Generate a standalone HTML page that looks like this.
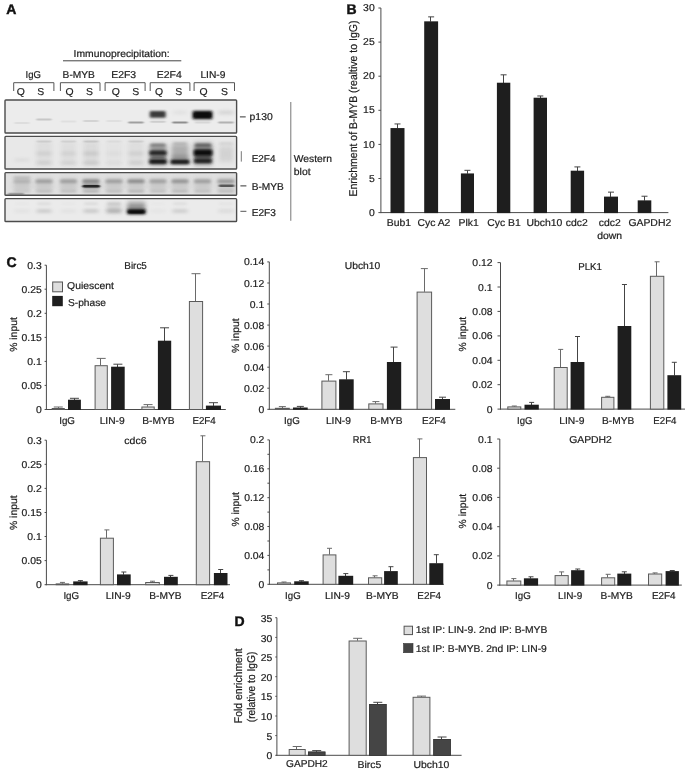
<!DOCTYPE html>
<html lang="en"><head><meta charset="utf-8"><title>Figure</title>
<style>
html,body{margin:0;padding:0;background:#fff;}
body{width:685px;height:770px;overflow:hidden;}
svg{display:block;font-family:"Liberation Sans",Arial,Helvetica,sans-serif;text-rendering:geometricPrecision;}
</style></head><body>
<svg width="685" height="770" viewBox="0 0 685 770">
<defs>
<filter id="b1" x="-30%" y="-100%" width="160%" height="300%"><feGaussianBlur stdDeviation="1.8 1.3"/></filter>
<filter id="b2" x="-30%" y="-100%" width="160%" height="300%"><feGaussianBlur stdDeviation="1.2 0.7"/></filter>
<filter id="b3" x="-30%" y="-100%" width="160%" height="300%"><feGaussianBlur stdDeviation="2 1.6"/></filter>
<filter id="b4" x="-30%" y="-100%" width="160%" height="300%"><feGaussianBlur stdDeviation="2.2 2.6"/></filter>
<clipPath id="c1"><rect x="5" y="100" width="231.5" height="33.5"/></clipPath>
<clipPath id="c2"><rect x="5" y="136.5" width="231.5" height="32.5"/></clipPath>
<clipPath id="c3"><rect x="5" y="172.8" width="231.5" height="22.5"/></clipPath>
<clipPath id="c4"><rect x="5" y="198.8" width="231.5" height="22.7"/></clipPath>
</defs>
<rect width="685" height="770" fill="#ffffff"/>

<g id="panelA">
<text x="6.2" y="14.4" font-size="14" font-weight="bold" fill="#111" stroke="#111" stroke-width="0.45">A</text>
<text x="73.6" y="56.9" font-size="10" textLength="96" lengthAdjust="spacingAndGlyphs" fill="#1c1c1c" stroke="#1c1c1c" stroke-width="0.2">Immunoprecipitation:</text>
<line x1="63" y1="60.8" x2="181.3" y2="60.8" stroke="#444" stroke-width="1"/>
<text x="25.6" y="78.2" font-size="10" textLength="15.4" lengthAdjust="spacingAndGlyphs" fill="#1c1c1c" stroke="#1c1c1c" stroke-width="0.2">IgG</text>
<text x="62.6" y="78.2" font-size="10" textLength="32.3" lengthAdjust="spacingAndGlyphs" fill="#1c1c1c" stroke="#1c1c1c" stroke-width="0.2">B-MYB</text>
<text x="111.2" y="78.2" font-size="10" textLength="25.0" lengthAdjust="spacingAndGlyphs" fill="#1c1c1c" stroke="#1c1c1c" stroke-width="0.2">E2F3</text>
<text x="156.8" y="78.2" font-size="10" textLength="25.0" lengthAdjust="spacingAndGlyphs" fill="#1c1c1c" stroke="#1c1c1c" stroke-width="0.2">E2F4</text>
<text x="200.4" y="78.2" font-size="10" textLength="25.0" lengthAdjust="spacingAndGlyphs" fill="#1c1c1c" stroke="#1c1c1c" stroke-width="0.2">LIN-9</text>
<path d="M13.7 91 V82.7 H53.9 V91" fill="none" stroke="#555" stroke-width="1"/>
<path d="M60.4 91 V82.7 H100.0 V91" fill="none" stroke="#555" stroke-width="1"/>
<path d="M105.1 91 V82.7 H145.1 V91" fill="none" stroke="#555" stroke-width="1"/>
<path d="M150.2 91 V82.7 H189.9 V91" fill="none" stroke="#555" stroke-width="1"/>
<path d="M194.1 91 V82.7 H234.5 V91" fill="none" stroke="#555" stroke-width="1"/>
<text x="20.9" y="94.6" font-size="10" text-anchor="middle" textLength="8.09" lengthAdjust="spacingAndGlyphs" fill="#1c1c1c" stroke="#1c1c1c" stroke-width="0.2">Q</text>
<text x="40.7" y="94.6" font-size="10" text-anchor="middle" textLength="6.94" lengthAdjust="spacingAndGlyphs" fill="#1c1c1c" stroke="#1c1c1c" stroke-width="0.2">S</text>
<text x="69.5" y="94.6" font-size="10" text-anchor="middle" textLength="8.09" lengthAdjust="spacingAndGlyphs" fill="#1c1c1c" stroke="#1c1c1c" stroke-width="0.2">Q</text>
<text x="89.4" y="94.6" font-size="10" text-anchor="middle" textLength="6.94" lengthAdjust="spacingAndGlyphs" fill="#1c1c1c" stroke="#1c1c1c" stroke-width="0.2">S</text>
<text x="115.8" y="94.6" font-size="10" text-anchor="middle" textLength="8.09" lengthAdjust="spacingAndGlyphs" fill="#1c1c1c" stroke="#1c1c1c" stroke-width="0.2">Q</text>
<text x="135.7" y="94.6" font-size="10" text-anchor="middle" textLength="6.94" lengthAdjust="spacingAndGlyphs" fill="#1c1c1c" stroke="#1c1c1c" stroke-width="0.2">S</text>
<text x="159.0" y="94.6" font-size="10" text-anchor="middle" textLength="8.09" lengthAdjust="spacingAndGlyphs" fill="#1c1c1c" stroke="#1c1c1c" stroke-width="0.2">Q</text>
<text x="178.7" y="94.6" font-size="10" text-anchor="middle" textLength="6.94" lengthAdjust="spacingAndGlyphs" fill="#1c1c1c" stroke="#1c1c1c" stroke-width="0.2">S</text>
<text x="203.6" y="94.6" font-size="10" text-anchor="middle" textLength="8.09" lengthAdjust="spacingAndGlyphs" fill="#1c1c1c" stroke="#1c1c1c" stroke-width="0.2">Q</text>
<text x="224.5" y="94.6" font-size="10" text-anchor="middle" textLength="6.94" lengthAdjust="spacingAndGlyphs" fill="#1c1c1c" stroke="#1c1c1c" stroke-width="0.2">S</text>
<g clip-path="url(#c1)">
<rect x="5.00" y="100.00" width="232.00" height="34.00" fill="#ececec"/>
<rect x="14.2" y="122.0" width="15.5" height="2.0" rx="1.0" fill="#555" opacity="0.09" filter="url(#b2)"/>
<rect x="36.2" y="118.5" width="15.5" height="2.0" rx="1.0" fill="#555" opacity="0.24" filter="url(#b2)"/>
<rect x="60.8" y="120.5" width="15.5" height="2.0" rx="1.0" fill="#555" opacity="0.08" filter="url(#b2)"/>
<rect x="83.2" y="120.0" width="15.5" height="2.0" rx="1.0" fill="#555" opacity="0.16" filter="url(#b2)"/>
<rect x="106.2" y="120.0" width="15.5" height="2.0" rx="1.0" fill="#555" opacity="0.08" filter="url(#b2)"/>
<rect x="128.2" y="121.4" width="15.5" height="2.0" rx="1.0" fill="#555" opacity="0.5" filter="url(#b2)"/>
<rect x="150.2" y="120.8" width="15.5" height="2.0" rx="1.0" fill="#555" opacity="0.2" filter="url(#b2)"/>
<rect x="172.2" y="121.4" width="15.5" height="2.0" rx="1.0" fill="#555" opacity="0.62" filter="url(#b2)"/>
<rect x="194.8" y="121.4" width="15.5" height="2.0" rx="1.0" fill="#555" opacity="0.14" filter="url(#b2)"/>
<rect x="218.2" y="121.4" width="15.5" height="2.0" rx="1.0" fill="#555" opacity="0.38" filter="url(#b2)"/>
<rect x="149.7" y="111.1" width="16.0" height="6.6" rx="1.5" fill="#303030" opacity="0.95" filter="url(#b1)"/>
<rect x="192.5" y="110.8" width="20.0" height="8.4" rx="1.5" fill="#141414" opacity="1" filter="url(#b1)"/>
<rect x="194.5" y="112.8" width="16.0" height="4.5" rx="1.5" fill="#0a0a0a" opacity="0.9" filter="url(#b2)"/>
<rect x="218.5" y="110.5" width="15.0" height="4.0" rx="1.5" fill="#888" opacity="0.22" filter="url(#b3)"/>
<rect x="173.0" y="110.5" width="14.0" height="4.0" rx="1.5" fill="#999" opacity="0.12" filter="url(#b3)"/>
</g>
<rect x="5.00" y="100.00" width="231.60" height="33.00" fill="none" stroke="#4c4c4c" stroke-width="1.4" rx="0.8"/>
<g clip-path="url(#c2)">
<rect x="5.00" y="136.00" width="232.00" height="33.50" fill="#e8e8e8"/>
<rect x="36.5" y="141.0" width="15.0" height="24.0" rx="1.5" fill="#999" opacity="0.128" filter="url(#b4)"/>
<rect x="36.5" y="140.5" width="15.0" height="2.0" rx="1.0" fill="#666" opacity="0.16" filter="url(#b2)"/>
<rect x="36.5" y="151.5" width="15.0" height="4.0" rx="1.5" fill="#777" opacity="0.14400000000000002" filter="url(#b3)"/>
<rect x="36.5" y="161.2" width="15.0" height="3.5" rx="1.5" fill="#777" opacity="0.16" filter="url(#b3)"/>
<rect x="61.0" y="141.0" width="15.0" height="24.0" rx="1.5" fill="#999" opacity="0.11200000000000002" filter="url(#b4)"/>
<rect x="61.0" y="140.5" width="15.0" height="2.0" rx="1.0" fill="#666" opacity="0.14" filter="url(#b2)"/>
<rect x="61.0" y="151.5" width="15.0" height="4.0" rx="1.5" fill="#777" opacity="0.12600000000000003" filter="url(#b3)"/>
<rect x="61.0" y="161.2" width="15.0" height="3.5" rx="1.5" fill="#777" opacity="0.14" filter="url(#b3)"/>
<rect x="83.5" y="141.0" width="15.0" height="24.0" rx="1.5" fill="#999" opacity="0.16000000000000003" filter="url(#b4)"/>
<rect x="83.5" y="140.5" width="15.0" height="2.0" rx="1.0" fill="#666" opacity="0.2" filter="url(#b2)"/>
<rect x="83.5" y="151.5" width="15.0" height="4.0" rx="1.5" fill="#777" opacity="0.18000000000000002" filter="url(#b3)"/>
<rect x="83.5" y="161.2" width="15.0" height="3.5" rx="1.5" fill="#777" opacity="0.2" filter="url(#b3)"/>
<rect x="106.5" y="141.0" width="15.0" height="24.0" rx="1.5" fill="#999" opacity="0.05600000000000001" filter="url(#b4)"/>
<rect x="106.5" y="140.5" width="15.0" height="2.0" rx="1.0" fill="#666" opacity="0.07" filter="url(#b2)"/>
<rect x="106.5" y="151.5" width="15.0" height="4.0" rx="1.5" fill="#777" opacity="0.06300000000000001" filter="url(#b3)"/>
<rect x="106.5" y="161.2" width="15.0" height="3.5" rx="1.5" fill="#777" opacity="0.07" filter="url(#b3)"/>
<rect x="128.5" y="141.0" width="15.0" height="24.0" rx="1.5" fill="#999" opacity="0.128" filter="url(#b4)"/>
<rect x="128.5" y="140.5" width="15.0" height="2.0" rx="1.0" fill="#666" opacity="0.16" filter="url(#b2)"/>
<rect x="128.5" y="151.5" width="15.0" height="4.0" rx="1.5" fill="#777" opacity="0.14400000000000002" filter="url(#b3)"/>
<rect x="128.5" y="161.2" width="15.0" height="3.5" rx="1.5" fill="#777" opacity="0.16" filter="url(#b3)"/>
<rect x="14.5" y="158.0" width="15.0" height="4.0" rx="1.5" fill="#888" opacity="0.1" filter="url(#b3)"/>
<rect x="149.5" y="145.0" width="17.0" height="20.0" rx="1.5" fill="#555" opacity="0.55" filter="url(#b4)"/>
<rect x="150.2" y="143.6" width="15.5" height="3.2" rx="1.5" fill="#666" opacity="0.7" filter="url(#b1)"/>
<rect x="149.5" y="150.4" width="17.0" height="4.8" rx="1.5" fill="#262626" opacity="1" filter="url(#b1)"/>
<rect x="149.2" y="159.2" width="17.5" height="4.8" rx="1.5" fill="#1c1c1c" opacity="1" filter="url(#b1)"/>
<rect x="150.5" y="155.7" width="15.0" height="3.0" rx="1.5" fill="#333" opacity="0.5" filter="url(#b1)"/>
<rect x="171.5" y="144.0" width="17.0" height="20.0" rx="1.5" fill="#888" opacity="0.6" filter="url(#b4)"/>
<rect x="173.0" y="142.2" width="14.0" height="2.5" rx="1.2" fill="#888" opacity="0.4" filter="url(#b1)"/>
<rect x="172.0" y="154.5" width="16.0" height="5.0" rx="1.5" fill="#777" opacity="0.4" filter="url(#b3)"/>
<rect x="170.5" y="159.4" width="19.0" height="4.8" rx="1.5" fill="#1e1e1e" opacity="1" filter="url(#b1)"/>
<rect x="193.8" y="143.5" width="18.5" height="21.0" rx="1.5" fill="#4a4a4a" opacity="0.6" filter="url(#b4)"/>
<rect x="195.0" y="143.4" width="16.0" height="3.6" rx="1.5" fill="#555" opacity="0.8" filter="url(#b1)"/>
<rect x="193.8" y="149.4" width="18.5" height="6.4" rx="1.5" fill="#080808" opacity="1" filter="url(#b1)"/>
<rect x="194.2" y="158.4" width="17.5" height="4.8" rx="1.5" fill="#222" opacity="1" filter="url(#b1)"/>
<rect x="195.0" y="155.5" width="16.0" height="3.0" rx="1.5" fill="#222" opacity="0.6" filter="url(#b1)"/>
<rect x="219.0" y="142.2" width="14.0" height="2.5" rx="1.2" fill="#999" opacity="0.25" filter="url(#b1)"/>
<rect x="219.0" y="146.0" width="14.0" height="16.0" rx="1.5" fill="#aaa" opacity="0.35" filter="url(#b4)"/>
</g>
<rect x="5.00" y="136.40" width="231.60" height="32.60" fill="none" stroke="#4c4c4c" stroke-width="1.4" rx="0.8"/>
<g clip-path="url(#c3)">
<rect x="5.00" y="172.00" width="232.00" height="24.00" fill="#e0e0e0"/>
<rect x="13.5" y="178.5" width="17.0" height="13.0" rx="1.5" fill="#999" opacity="0.3" filter="url(#b4)"/>
<rect x="13.5" y="179.2" width="17.0" height="4.0" rx="1.5" fill="#666" opacity="0.25" filter="url(#b1)"/>
<rect x="14.0" y="190.1" width="16.0" height="2.4" rx="1.2" fill="#777" opacity="0.1375" filter="url(#b1)"/>
<rect x="35.5" y="178.5" width="17.0" height="13.0" rx="1.5" fill="#999" opacity="0.3" filter="url(#b4)"/>
<rect x="35.5" y="179.2" width="17.0" height="4.0" rx="1.5" fill="#666" opacity="0.42" filter="url(#b1)"/>
<rect x="36.0" y="190.1" width="16.0" height="2.4" rx="1.2" fill="#777" opacity="0.231" filter="url(#b1)"/>
<rect x="60.0" y="178.5" width="17.0" height="13.0" rx="1.5" fill="#999" opacity="0.3" filter="url(#b4)"/>
<rect x="60.0" y="179.2" width="17.0" height="4.0" rx="1.5" fill="#666" opacity="0.42" filter="url(#b1)"/>
<rect x="60.5" y="190.1" width="16.0" height="2.4" rx="1.2" fill="#777" opacity="0.231" filter="url(#b1)"/>
<rect x="82.5" y="178.5" width="17.0" height="13.0" rx="1.5" fill="#999" opacity="0.3" filter="url(#b4)"/>
<rect x="82.5" y="179.2" width="17.0" height="4.0" rx="1.5" fill="#666" opacity="0.62" filter="url(#b1)"/>
<rect x="83.0" y="190.1" width="16.0" height="2.4" rx="1.2" fill="#777" opacity="0.341" filter="url(#b1)"/>
<rect x="105.5" y="178.5" width="17.0" height="13.0" rx="1.5" fill="#999" opacity="0.3" filter="url(#b4)"/>
<rect x="105.5" y="179.2" width="17.0" height="4.0" rx="1.5" fill="#666" opacity="0.42" filter="url(#b1)"/>
<rect x="106.0" y="190.1" width="16.0" height="2.4" rx="1.2" fill="#777" opacity="0.231" filter="url(#b1)"/>
<rect x="127.5" y="178.5" width="17.0" height="13.0" rx="1.5" fill="#999" opacity="0.3" filter="url(#b4)"/>
<rect x="127.5" y="179.2" width="17.0" height="4.0" rx="1.5" fill="#666" opacity="0.58" filter="url(#b1)"/>
<rect x="128.0" y="190.1" width="16.0" height="2.4" rx="1.2" fill="#777" opacity="0.319" filter="url(#b1)"/>
<rect x="149.5" y="178.5" width="17.0" height="13.0" rx="1.5" fill="#999" opacity="0.3" filter="url(#b4)"/>
<rect x="149.5" y="179.2" width="17.0" height="4.0" rx="1.5" fill="#666" opacity="0.4" filter="url(#b1)"/>
<rect x="150.0" y="190.1" width="16.0" height="2.4" rx="1.2" fill="#777" opacity="0.22000000000000003" filter="url(#b1)"/>
<rect x="171.5" y="178.5" width="17.0" height="13.0" rx="1.5" fill="#999" opacity="0.3" filter="url(#b4)"/>
<rect x="171.5" y="179.2" width="17.0" height="4.0" rx="1.5" fill="#666" opacity="0.5" filter="url(#b1)"/>
<rect x="172.0" y="190.1" width="16.0" height="2.4" rx="1.2" fill="#777" opacity="0.275" filter="url(#b1)"/>
<rect x="194.0" y="178.5" width="17.0" height="13.0" rx="1.5" fill="#999" opacity="0.3" filter="url(#b4)"/>
<rect x="194.0" y="179.2" width="17.0" height="4.0" rx="1.5" fill="#666" opacity="0.42" filter="url(#b1)"/>
<rect x="194.5" y="190.1" width="16.0" height="2.4" rx="1.2" fill="#777" opacity="0.231" filter="url(#b1)"/>
<rect x="217.5" y="178.5" width="17.0" height="13.0" rx="1.5" fill="#999" opacity="0.3" filter="url(#b4)"/>
<rect x="217.5" y="179.2" width="17.0" height="4.0" rx="1.5" fill="#666" opacity="0.45" filter="url(#b1)"/>
<rect x="218.0" y="190.1" width="16.0" height="2.4" rx="1.2" fill="#777" opacity="0.24750000000000003" filter="url(#b1)"/>
<rect x="8.0" y="192.8" width="16.0" height="2.0" rx="1.0" fill="#555" opacity="0.45" filter="url(#b2)"/>
<rect x="13.5" y="176.2" width="17.0" height="2.5" rx="1.2" fill="#777" opacity="0.3" filter="url(#b1)"/>
<rect x="82.7" y="185.0" width="17.0" height="2.6" rx="1.3" fill="#1a1a1a" opacity="1" filter="url(#b2)"/>
<rect x="82.7" y="184.6" width="17.0" height="3.4" rx="1.5" fill="#333" opacity="0.5" filter="url(#b1)"/>
<rect x="218.8" y="184.5" width="15.5" height="2.4" rx="1.2" fill="#3a3a3a" opacity="0.8" filter="url(#b2)"/>
</g>
<rect x="5.00" y="172.60" width="231.60" height="22.60" fill="none" stroke="#4c4c4c" stroke-width="1.4" rx="0.8"/>
<g clip-path="url(#c4)">
<rect x="5.00" y="198.00" width="232.00" height="24.00" fill="#ebebeb"/>
<rect x="14.5" y="209.0" width="15.0" height="4.0" rx="1.5" fill="#777" opacity="0.07" filter="url(#b3)"/>
<rect x="15.0" y="202.6" width="14.0" height="2.4" rx="1.2" fill="#888" opacity="0.042" filter="url(#b1)"/>
<rect x="36.5" y="209.0" width="15.0" height="4.0" rx="1.5" fill="#777" opacity="0.25" filter="url(#b3)"/>
<rect x="37.0" y="202.6" width="14.0" height="2.4" rx="1.2" fill="#888" opacity="0.15" filter="url(#b1)"/>
<rect x="61.0" y="209.0" width="15.0" height="4.0" rx="1.5" fill="#777" opacity="0.07" filter="url(#b3)"/>
<rect x="61.5" y="202.6" width="14.0" height="2.4" rx="1.2" fill="#888" opacity="0.042" filter="url(#b1)"/>
<rect x="83.5" y="209.0" width="15.0" height="4.0" rx="1.5" fill="#777" opacity="0.28" filter="url(#b3)"/>
<rect x="84.0" y="202.6" width="14.0" height="2.4" rx="1.2" fill="#888" opacity="0.168" filter="url(#b1)"/>
<rect x="106.5" y="209.0" width="15.0" height="4.0" rx="1.5" fill="#777" opacity="0.42" filter="url(#b3)"/>
<rect x="107.0" y="202.6" width="14.0" height="2.4" rx="1.2" fill="#888" opacity="0.252" filter="url(#b1)"/>
<rect x="150.5" y="209.0" width="15.0" height="4.0" rx="1.5" fill="#777" opacity="0.05" filter="url(#b3)"/>
<rect x="151.0" y="202.6" width="14.0" height="2.4" rx="1.2" fill="#888" opacity="0.03" filter="url(#b1)"/>
<rect x="172.5" y="209.0" width="15.0" height="4.0" rx="1.5" fill="#777" opacity="0.24" filter="url(#b3)"/>
<rect x="173.0" y="202.6" width="14.0" height="2.4" rx="1.2" fill="#888" opacity="0.144" filter="url(#b1)"/>
<rect x="218.5" y="209.0" width="15.0" height="4.0" rx="1.5" fill="#777" opacity="0.12" filter="url(#b3)"/>
<rect x="219.0" y="202.6" width="14.0" height="2.4" rx="1.2" fill="#888" opacity="0.072" filter="url(#b1)"/>
<rect x="107.0" y="203.5" width="14.0" height="9.0" rx="1.5" fill="#999" opacity="0.3" filter="url(#b4)"/>
<rect x="127.3" y="202.5" width="18.0" height="10.0" rx="1.5" fill="#555" opacity="0.6" filter="url(#b4)"/>
<rect x="127.1" y="208.9" width="18.5" height="5.4" rx="1.5" fill="#181818" opacity="1" filter="url(#b1)"/>
<rect x="128.8" y="210.5" width="15.0" height="3.0" rx="1.5" fill="#101010" opacity="0.9" filter="url(#b2)"/>
</g>
<rect x="5.00" y="198.60" width="231.60" height="22.90" fill="none" stroke="#4c4c4c" stroke-width="1.4" rx="0.8"/>
<line x1="239.9" y1="116.9" x2="245.7" y2="116.9" stroke="#333" stroke-width="1"/>
<text x="249.6" y="119.6" font-size="10" textLength="23.1" lengthAdjust="spacingAndGlyphs" fill="#1c1c1c" stroke="#1c1c1c" stroke-width="0.2">p130</text>
<line x1="241.3" y1="151.2" x2="241.3" y2="161.6" stroke="#777" stroke-width="1"/>
<text x="251.7" y="162.0" font-size="10" textLength="23.8" lengthAdjust="spacingAndGlyphs" fill="#1c1c1c" stroke="#1c1c1c" stroke-width="0.2">E2F4</text>
<line x1="240.4" y1="185.9" x2="246.4" y2="185.9" stroke="#333" stroke-width="1"/>
<text x="251.7" y="189.7" font-size="10" textLength="32.1" lengthAdjust="spacingAndGlyphs" fill="#1c1c1c" stroke="#1c1c1c" stroke-width="0.2">B-MYB</text>
<line x1="240.4" y1="211.3" x2="246.4" y2="211.3" stroke="#555" stroke-width="1"/>
<text x="251.7" y="216.0" font-size="10" textLength="24.2" lengthAdjust="spacingAndGlyphs" fill="#1c1c1c" stroke="#1c1c1c" stroke-width="0.2">E2F3</text>
<line x1="290.8" y1="102" x2="290.8" y2="220.8" stroke="#777" stroke-width="1"/>
<text x="293.8" y="162.2" font-size="10" textLength="38.2" lengthAdjust="spacingAndGlyphs" fill="#1c1c1c" stroke="#1c1c1c" stroke-width="0.2">Western</text>
<text x="293.8" y="174.8" font-size="10" textLength="16.77" lengthAdjust="spacingAndGlyphs" fill="#1c1c1c" stroke="#1c1c1c" stroke-width="0.2">blot</text>
</g>
<g id="panelB">
<text x="346.6" y="13.6" font-size="14" font-weight="bold" fill="#111" stroke="#111" stroke-width="0.45">B</text>
<line x1="380.9" y1="8.0" x2="380.9" y2="213.1" stroke="#4a4a4a" stroke-width="1"/>
<line x1="378.4" y1="212.6" x2="380.9" y2="212.6" stroke="#4a4a4a" stroke-width="1"/>
<text x="374.7" y="215.7" font-size="10" text-anchor="end" textLength="5.78" lengthAdjust="spacingAndGlyphs" fill="#1c1c1c" stroke="#1c1c1c" stroke-width="0.2">0</text>
<line x1="378.4" y1="178.5" x2="380.9" y2="178.5" stroke="#4a4a4a" stroke-width="1"/>
<text x="374.7" y="181.6" font-size="10" text-anchor="end" textLength="5.78" lengthAdjust="spacingAndGlyphs" fill="#1c1c1c" stroke="#1c1c1c" stroke-width="0.2">5</text>
<line x1="378.4" y1="144.4" x2="380.9" y2="144.4" stroke="#4a4a4a" stroke-width="1"/>
<text x="374.7" y="147.5" font-size="10" text-anchor="end" textLength="11.57" lengthAdjust="spacingAndGlyphs" fill="#1c1c1c" stroke="#1c1c1c" stroke-width="0.2">10</text>
<line x1="378.4" y1="110.3" x2="380.9" y2="110.3" stroke="#4a4a4a" stroke-width="1"/>
<text x="374.7" y="113.4" font-size="10" text-anchor="end" textLength="11.57" lengthAdjust="spacingAndGlyphs" fill="#1c1c1c" stroke="#1c1c1c" stroke-width="0.2">15</text>
<line x1="378.4" y1="76.2" x2="380.9" y2="76.2" stroke="#4a4a4a" stroke-width="1"/>
<text x="374.7" y="79.3" font-size="10" text-anchor="end" textLength="11.57" lengthAdjust="spacingAndGlyphs" fill="#1c1c1c" stroke="#1c1c1c" stroke-width="0.2">20</text>
<line x1="378.4" y1="42.1" x2="380.9" y2="42.1" stroke="#4a4a4a" stroke-width="1"/>
<text x="374.7" y="45.2" font-size="10" text-anchor="end" textLength="11.57" lengthAdjust="spacingAndGlyphs" fill="#1c1c1c" stroke="#1c1c1c" stroke-width="0.2">25</text>
<line x1="378.4" y1="8.0" x2="380.9" y2="8.0" stroke="#4a4a4a" stroke-width="1"/>
<text x="374.7" y="11.1" font-size="10" text-anchor="end" textLength="11.57" lengthAdjust="spacingAndGlyphs" fill="#1c1c1c" stroke="#1c1c1c" stroke-width="0.2">30</text>
<line x1="380.8" y1="212.6" x2="668.4" y2="212.6" stroke="#4a4a4a" stroke-width="1"/>
<text x="357.2" y="108.6" font-size="11.3" text-anchor="middle" textLength="176" lengthAdjust="spacingAndGlyphs" transform="rotate(-90 357.2 108.6)" fill="#1c1c1c" stroke="#1c1c1c" stroke-width="0.2">Enrichment of B-MYB (realtive to IgG)</text>
<line x1="397.50" y1="128.37" x2="397.50" y2="123.94" stroke="#444" stroke-width="1"/>
<line x1="394.50" y1="123.94" x2="400.50" y2="123.94" stroke="#444" stroke-width="1"/>
<rect x="390.50" y="128.07" width="14.00" height="85.03" fill="#1e1e1e"/>
<text x="398.9" y="226.4" font-size="10" text-anchor="middle" textLength="24.29" lengthAdjust="spacingAndGlyphs" fill="#1c1c1c" stroke="#1c1c1c" stroke-width="0.2">Bub1</text>
<line x1="430.50" y1="21.64" x2="430.50" y2="16.87" stroke="#444" stroke-width="1"/>
<line x1="428.15" y1="16.87" x2="434.15" y2="16.87" stroke="#444" stroke-width="1"/>
<rect x="424.20" y="21.34" width="13.90" height="191.76" fill="#1e1e1e"/>
<text x="433.9" y="226.4" font-size="10" text-anchor="middle" textLength="32.95" lengthAdjust="spacingAndGlyphs" fill="#1c1c1c" stroke="#1c1c1c" stroke-width="0.2">Cyc A2</text>
<line x1="467.50" y1="173.73" x2="467.50" y2="170.32" stroke="#444" stroke-width="1"/>
<line x1="464.45" y1="170.32" x2="470.45" y2="170.32" stroke="#444" stroke-width="1"/>
<rect x="460.90" y="173.43" width="13.10" height="39.67" fill="#1e1e1e"/>
<text x="468.7" y="226.4" font-size="10" text-anchor="middle" textLength="20.23" lengthAdjust="spacingAndGlyphs" fill="#1c1c1c" stroke="#1c1c1c" stroke-width="0.2">Plk1</text>
<line x1="503.50" y1="83.02" x2="503.50" y2="74.84" stroke="#444" stroke-width="1"/>
<line x1="500.60" y1="74.84" x2="506.60" y2="74.84" stroke="#444" stroke-width="1"/>
<rect x="496.90" y="82.72" width="13.40" height="130.38" fill="#1e1e1e"/>
<text x="504.0" y="226.4" font-size="10" text-anchor="middle" textLength="33.52" lengthAdjust="spacingAndGlyphs" fill="#1c1c1c" stroke="#1c1c1c" stroke-width="0.2">Cyc B1</text>
<line x1="540.50" y1="98.02" x2="540.50" y2="95.98" stroke="#444" stroke-width="1"/>
<line x1="537.30" y1="95.98" x2="543.30" y2="95.98" stroke="#444" stroke-width="1"/>
<rect x="533.60" y="97.72" width="13.40" height="115.38" fill="#1e1e1e"/>
<text x="544.4" y="226.4" font-size="10" text-anchor="middle" textLength="35.85" lengthAdjust="spacingAndGlyphs" fill="#1c1c1c" stroke="#1c1c1c" stroke-width="0.2">Ubch10</text>
<line x1="577.50" y1="171.00" x2="577.50" y2="166.91" stroke="#444" stroke-width="1"/>
<line x1="574.40" y1="166.91" x2="580.40" y2="166.91" stroke="#444" stroke-width="1"/>
<rect x="570.70" y="170.70" width="13.40" height="42.40" fill="#1e1e1e"/>
<text x="576.7" y="226.4" font-size="10" text-anchor="middle" textLength="21.97" lengthAdjust="spacingAndGlyphs" fill="#1c1c1c" stroke="#1c1c1c" stroke-width="0.2">cdc2</text>
<line x1="610.50" y1="196.91" x2="610.50" y2="192.14" stroke="#444" stroke-width="1"/>
<line x1="608.00" y1="192.14" x2="614.00" y2="192.14" stroke="#444" stroke-width="1"/>
<rect x="604.00" y="196.61" width="14.00" height="16.49" fill="#1e1e1e"/>
<text x="609.7" y="226.4" font-size="10" text-anchor="middle" textLength="21.97" lengthAdjust="spacingAndGlyphs" fill="#1c1c1c" stroke="#1c1c1c" stroke-width="0.2">cdc2</text>
<text x="609.7" y="238.8" font-size="10" text-anchor="middle" textLength="24.86" lengthAdjust="spacingAndGlyphs" fill="#1c1c1c" stroke="#1c1c1c" stroke-width="0.2">down</text>
<line x1="644.50" y1="200.66" x2="644.50" y2="196.23" stroke="#444" stroke-width="1"/>
<line x1="641.50" y1="196.23" x2="647.50" y2="196.23" stroke="#444" stroke-width="1"/>
<rect x="637.70" y="200.36" width="13.60" height="12.74" fill="#1e1e1e"/>
<text x="649.8" y="226.4" font-size="10" text-anchor="middle" textLength="42.77" lengthAdjust="spacingAndGlyphs" fill="#1c1c1c" stroke="#1c1c1c" stroke-width="0.2">GAPDH2</text>
</g>
<g id="panelC">
<text x="6.4" y="267.2" font-size="14" font-weight="bold" fill="#111" stroke="#111" stroke-width="0.45">C</text>
<line x1="46.4" y1="265.2" x2="46.4" y2="410.0" stroke="#4a4a4a" stroke-width="1"/>
<line x1="44.6" y1="409.5" x2="46.4" y2="409.5" stroke="#4a4a4a" stroke-width="1"/>
<text x="41.8" y="413.0" font-size="10" text-anchor="end" textLength="5.78" lengthAdjust="spacingAndGlyphs" fill="#1c1c1c" stroke="#1c1c1c" stroke-width="0.2">0</text>
<line x1="44.6" y1="385.4" x2="46.4" y2="385.4" stroke="#4a4a4a" stroke-width="1"/>
<text x="41.8" y="388.9" font-size="10" text-anchor="end" textLength="20.24" lengthAdjust="spacingAndGlyphs" fill="#1c1c1c" stroke="#1c1c1c" stroke-width="0.2">0.05</text>
<line x1="44.6" y1="361.4" x2="46.4" y2="361.4" stroke="#4a4a4a" stroke-width="1"/>
<text x="41.8" y="364.9" font-size="10" text-anchor="end" textLength="14.46" lengthAdjust="spacingAndGlyphs" fill="#1c1c1c" stroke="#1c1c1c" stroke-width="0.2">0.1</text>
<line x1="44.6" y1="337.4" x2="46.4" y2="337.4" stroke="#4a4a4a" stroke-width="1"/>
<text x="41.8" y="340.9" font-size="10" text-anchor="end" textLength="20.24" lengthAdjust="spacingAndGlyphs" fill="#1c1c1c" stroke="#1c1c1c" stroke-width="0.2">0.15</text>
<line x1="44.6" y1="313.3" x2="46.4" y2="313.3" stroke="#4a4a4a" stroke-width="1"/>
<text x="41.8" y="316.8" font-size="10" text-anchor="end" textLength="14.46" lengthAdjust="spacingAndGlyphs" fill="#1c1c1c" stroke="#1c1c1c" stroke-width="0.2">0.2</text>
<line x1="44.6" y1="289.2" x2="46.4" y2="289.2" stroke="#4a4a4a" stroke-width="1"/>
<text x="41.8" y="292.7" font-size="10" text-anchor="end" textLength="20.24" lengthAdjust="spacingAndGlyphs" fill="#1c1c1c" stroke="#1c1c1c" stroke-width="0.2">0.25</text>
<line x1="44.6" y1="265.2" x2="46.4" y2="265.2" stroke="#4a4a4a" stroke-width="1"/>
<text x="41.8" y="268.7" font-size="10" text-anchor="end" textLength="14.46" lengthAdjust="spacingAndGlyphs" fill="#1c1c1c" stroke="#1c1c1c" stroke-width="0.2">0.3</text>
<line x1="45.9" y1="409.5" x2="225.8" y2="409.5" stroke="#4a4a4a" stroke-width="1"/>
<text x="124.3" y="269.0" font-size="10" textLength="22.6" lengthAdjust="spacingAndGlyphs" fill="#1c1c1c" stroke="#1c1c1c" stroke-width="0.2">Birc5</text>
<text x="17.1" y="334.5" font-size="10.3" text-anchor="middle" textLength="34.6" lengthAdjust="spacingAndGlyphs" transform="rotate(-90 17.1 334.5)" fill="#1c1c1c" stroke="#1c1c1c" stroke-width="0.2">% input</text>
<line x1="58.50" y1="408.20" x2="58.50" y2="407.00" stroke="#6a6a6a" stroke-width="1"/>
<line x1="53.75" y1="407.00" x2="62.75" y2="407.00" stroke="#6a6a6a" stroke-width="1"/>
<rect x="52.20" y="408.50" width="12.10" height="1.00" fill="#dedede" stroke="#5a5a5a" stroke-width="1"/>
<line x1="74.50" y1="400.00" x2="74.50" y2="398.30" stroke="#444" stroke-width="1"/>
<line x1="69.95" y1="398.30" x2="78.95" y2="398.30" stroke="#444" stroke-width="1"/>
<rect x="68.00" y="399.70" width="12.90" height="10.30" fill="#1e1e1e"/>
<line x1="100.50" y1="365.40" x2="100.50" y2="358.40" stroke="#6a6a6a" stroke-width="1"/>
<line x1="96.70" y1="358.40" x2="105.70" y2="358.40" stroke="#6a6a6a" stroke-width="1"/>
<rect x="95.10" y="365.70" width="12.20" height="43.80" fill="#dedede" stroke="#5a5a5a" stroke-width="1"/>
<line x1="117.50" y1="367.00" x2="117.50" y2="364.20" stroke="#444" stroke-width="1"/>
<line x1="113.40" y1="364.20" x2="122.40" y2="364.20" stroke="#444" stroke-width="1"/>
<rect x="111.10" y="366.70" width="13.60" height="43.30" fill="#1e1e1e"/>
<line x1="147.50" y1="406.70" x2="147.50" y2="404.60" stroke="#6a6a6a" stroke-width="1"/>
<line x1="143.55" y1="404.60" x2="152.55" y2="404.60" stroke="#6a6a6a" stroke-width="1"/>
<rect x="141.90" y="407.00" width="12.30" height="2.50" fill="#dedede" stroke="#5a5a5a" stroke-width="1"/>
<line x1="164.50" y1="341.00" x2="164.50" y2="327.80" stroke="#444" stroke-width="1"/>
<line x1="160.05" y1="327.80" x2="169.05" y2="327.80" stroke="#444" stroke-width="1"/>
<rect x="157.90" y="340.70" width="13.30" height="69.30" fill="#1e1e1e"/>
<line x1="195.50" y1="301.20" x2="195.50" y2="273.70" stroke="#6a6a6a" stroke-width="1"/>
<line x1="191.50" y1="273.70" x2="200.50" y2="273.70" stroke="#6a6a6a" stroke-width="1"/>
<rect x="189.40" y="301.50" width="13.20" height="108.00" fill="#dedede" stroke="#5a5a5a" stroke-width="1"/>
<line x1="213.50" y1="405.90" x2="213.50" y2="402.70" stroke="#444" stroke-width="1"/>
<line x1="208.95" y1="402.70" x2="217.95" y2="402.70" stroke="#444" stroke-width="1"/>
<rect x="205.90" y="405.60" width="15.10" height="4.40" fill="#1e1e1e"/>
<text x="59.2" y="423.7" font-size="10" textLength="15.8" lengthAdjust="spacingAndGlyphs" fill="#1c1c1c" stroke="#1c1c1c" stroke-width="0.2">IgG</text>
<text x="99.7" y="423.7" font-size="10" textLength="25.0" lengthAdjust="spacingAndGlyphs" fill="#1c1c1c" stroke="#1c1c1c" stroke-width="0.2">LIN-9</text>
<text x="142.2" y="423.7" font-size="10" textLength="32.5" lengthAdjust="spacingAndGlyphs" fill="#1c1c1c" stroke="#1c1c1c" stroke-width="0.2">B-MYB</text>
<text x="192.4" y="423.7" font-size="10" textLength="23.4" lengthAdjust="spacingAndGlyphs" fill="#1c1c1c" stroke="#1c1c1c" stroke-width="0.2">E2F4</text>
<rect x="52.70" y="282.00" width="9.80" height="9.80" fill="#dedede" stroke="#555" stroke-width="1"/>
<rect x="52.20" y="295.90" width="10.60" height="10.30" fill="#1e1e1e"/>
<text x="67.1" y="288.9" font-size="10" textLength="46.8" lengthAdjust="spacingAndGlyphs" fill="#1c1c1c" stroke="#1c1c1c" stroke-width="0.2">Quiescent</text>
<text x="68.0" y="305.7" font-size="10" textLength="38.0" lengthAdjust="spacingAndGlyphs" fill="#1c1c1c" stroke="#1c1c1c" stroke-width="0.2">S-phase</text>
<line x1="269.3" y1="261.9" x2="269.3" y2="409.8" stroke="#4a4a4a" stroke-width="1"/>
<line x1="267.3" y1="409.3" x2="269.3" y2="409.3" stroke="#4a4a4a" stroke-width="1"/>
<text x="264.2" y="412.8" font-size="10" text-anchor="end" textLength="5.78" lengthAdjust="spacingAndGlyphs" fill="#1c1c1c" stroke="#1c1c1c" stroke-width="0.2">0</text>
<line x1="267.3" y1="388.2" x2="269.3" y2="388.2" stroke="#4a4a4a" stroke-width="1"/>
<text x="264.2" y="391.7" font-size="10" text-anchor="end" textLength="20.24" lengthAdjust="spacingAndGlyphs" fill="#1c1c1c" stroke="#1c1c1c" stroke-width="0.2">0.02</text>
<line x1="267.3" y1="367.2" x2="269.3" y2="367.2" stroke="#4a4a4a" stroke-width="1"/>
<text x="264.2" y="370.7" font-size="10" text-anchor="end" textLength="20.24" lengthAdjust="spacingAndGlyphs" fill="#1c1c1c" stroke="#1c1c1c" stroke-width="0.2">0.04</text>
<line x1="267.3" y1="346.1" x2="269.3" y2="346.1" stroke="#4a4a4a" stroke-width="1"/>
<text x="264.2" y="349.6" font-size="10" text-anchor="end" textLength="20.24" lengthAdjust="spacingAndGlyphs" fill="#1c1c1c" stroke="#1c1c1c" stroke-width="0.2">0.06</text>
<line x1="267.3" y1="325.1" x2="269.3" y2="325.1" stroke="#4a4a4a" stroke-width="1"/>
<text x="264.2" y="328.6" font-size="10" text-anchor="end" textLength="20.24" lengthAdjust="spacingAndGlyphs" fill="#1c1c1c" stroke="#1c1c1c" stroke-width="0.2">0.08</text>
<line x1="267.3" y1="304.0" x2="269.3" y2="304.0" stroke="#4a4a4a" stroke-width="1"/>
<text x="264.2" y="307.5" font-size="10" text-anchor="end" textLength="14.46" lengthAdjust="spacingAndGlyphs" fill="#1c1c1c" stroke="#1c1c1c" stroke-width="0.2">0.1</text>
<line x1="267.3" y1="283.0" x2="269.3" y2="283.0" stroke="#4a4a4a" stroke-width="1"/>
<text x="264.2" y="286.5" font-size="10" text-anchor="end" textLength="20.24" lengthAdjust="spacingAndGlyphs" fill="#1c1c1c" stroke="#1c1c1c" stroke-width="0.2">0.12</text>
<line x1="267.3" y1="261.9" x2="269.3" y2="261.9" stroke="#4a4a4a" stroke-width="1"/>
<text x="264.2" y="265.4" font-size="10" text-anchor="end" textLength="20.24" lengthAdjust="spacingAndGlyphs" fill="#1c1c1c" stroke="#1c1c1c" stroke-width="0.2">0.14</text>
<line x1="268.8" y1="409.3" x2="455.3" y2="409.3" stroke="#4a4a4a" stroke-width="1"/>
<text x="344.8" y="269.0" font-size="10" textLength="35.5" lengthAdjust="spacingAndGlyphs" fill="#1c1c1c" stroke="#1c1c1c" stroke-width="0.2">Ubch10</text>
<text x="238.6" y="335.7" font-size="10.3" text-anchor="middle" textLength="34.6" lengthAdjust="spacingAndGlyphs" transform="rotate(-90 238.6 335.7)" fill="#1c1c1c" stroke="#1c1c1c" stroke-width="0.2">% input</text>
<line x1="282.50" y1="408.00" x2="282.50" y2="406.60" stroke="#6a6a6a" stroke-width="1"/>
<line x1="278.85" y1="406.60" x2="285.85" y2="406.60" stroke="#6a6a6a" stroke-width="1"/>
<rect x="275.40" y="408.30" width="13.90" height="1.00" fill="#dedede" stroke="#5a5a5a" stroke-width="1"/>
<line x1="300.50" y1="407.80" x2="300.50" y2="406.40" stroke="#444" stroke-width="1"/>
<line x1="296.85" y1="406.40" x2="303.85" y2="406.40" stroke="#444" stroke-width="1"/>
<rect x="293.00" y="407.50" width="14.70" height="2.30" fill="#1e1e1e"/>
<line x1="328.50" y1="380.80" x2="328.50" y2="374.70" stroke="#6a6a6a" stroke-width="1"/>
<line x1="325.40" y1="374.70" x2="332.40" y2="374.70" stroke="#6a6a6a" stroke-width="1"/>
<rect x="321.90" y="381.10" width="14.00" height="28.20" fill="#dedede" stroke="#5a5a5a" stroke-width="1"/>
<line x1="346.50" y1="379.60" x2="346.50" y2="371.70" stroke="#444" stroke-width="1"/>
<line x1="342.90" y1="371.70" x2="349.90" y2="371.70" stroke="#444" stroke-width="1"/>
<rect x="339.10" y="379.30" width="14.60" height="30.50" fill="#1e1e1e"/>
<line x1="375.50" y1="403.60" x2="375.50" y2="401.60" stroke="#6a6a6a" stroke-width="1"/>
<line x1="372.40" y1="401.60" x2="379.40" y2="401.60" stroke="#6a6a6a" stroke-width="1"/>
<rect x="368.80" y="403.90" width="14.20" height="5.40" fill="#dedede" stroke="#5a5a5a" stroke-width="1"/>
<line x1="393.50" y1="362.30" x2="393.50" y2="347.10" stroke="#444" stroke-width="1"/>
<line x1="390.55" y1="347.10" x2="397.55" y2="347.10" stroke="#444" stroke-width="1"/>
<rect x="386.90" y="362.00" width="14.30" height="47.80" fill="#1e1e1e"/>
<line x1="424.50" y1="291.80" x2="424.50" y2="268.60" stroke="#6a6a6a" stroke-width="1"/>
<line x1="420.85" y1="268.60" x2="427.85" y2="268.60" stroke="#6a6a6a" stroke-width="1"/>
<rect x="417.10" y="292.10" width="14.50" height="117.20" fill="#dedede" stroke="#5a5a5a" stroke-width="1"/>
<line x1="442.50" y1="399.30" x2="442.50" y2="397.20" stroke="#444" stroke-width="1"/>
<line x1="439.00" y1="397.20" x2="446.00" y2="397.20" stroke="#444" stroke-width="1"/>
<rect x="435.00" y="399.00" width="15.00" height="10.80" fill="#1e1e1e"/>
<text x="284.1" y="423.7" font-size="10" textLength="15.8" lengthAdjust="spacingAndGlyphs" fill="#1c1c1c" stroke="#1c1c1c" stroke-width="0.2">IgG</text>
<text x="325.9" y="423.7" font-size="10" textLength="25.0" lengthAdjust="spacingAndGlyphs" fill="#1c1c1c" stroke="#1c1c1c" stroke-width="0.2">LIN-9</text>
<text x="370.2" y="423.7" font-size="10" textLength="32.3" lengthAdjust="spacingAndGlyphs" fill="#1c1c1c" stroke="#1c1c1c" stroke-width="0.2">B-MYB</text>
<text x="422.0" y="423.7" font-size="10" textLength="23.8" lengthAdjust="spacingAndGlyphs" fill="#1c1c1c" stroke="#1c1c1c" stroke-width="0.2">E2F4</text>
<line x1="500.5" y1="262.6" x2="500.5" y2="409.6" stroke="#4a4a4a" stroke-width="1"/>
<line x1="497.5" y1="409.1" x2="500.5" y2="409.1" stroke="#4a4a4a" stroke-width="1"/>
<text x="492.6" y="412.6" font-size="10" text-anchor="end" textLength="5.78" lengthAdjust="spacingAndGlyphs" fill="#1c1c1c" stroke="#1c1c1c" stroke-width="0.2">0</text>
<line x1="497.5" y1="384.7" x2="500.5" y2="384.7" stroke="#4a4a4a" stroke-width="1"/>
<text x="492.6" y="388.2" font-size="10" text-anchor="end" textLength="20.24" lengthAdjust="spacingAndGlyphs" fill="#1c1c1c" stroke="#1c1c1c" stroke-width="0.2">0.02</text>
<line x1="497.5" y1="360.3" x2="500.5" y2="360.3" stroke="#4a4a4a" stroke-width="1"/>
<text x="492.6" y="363.8" font-size="10" text-anchor="end" textLength="20.24" lengthAdjust="spacingAndGlyphs" fill="#1c1c1c" stroke="#1c1c1c" stroke-width="0.2">0.04</text>
<line x1="497.5" y1="335.9" x2="500.5" y2="335.9" stroke="#4a4a4a" stroke-width="1"/>
<text x="492.6" y="339.4" font-size="10" text-anchor="end" textLength="20.24" lengthAdjust="spacingAndGlyphs" fill="#1c1c1c" stroke="#1c1c1c" stroke-width="0.2">0.06</text>
<line x1="497.5" y1="311.4" x2="500.5" y2="311.4" stroke="#4a4a4a" stroke-width="1"/>
<text x="492.6" y="314.9" font-size="10" text-anchor="end" textLength="20.24" lengthAdjust="spacingAndGlyphs" fill="#1c1c1c" stroke="#1c1c1c" stroke-width="0.2">0.08</text>
<line x1="497.5" y1="287.0" x2="500.5" y2="287.0" stroke="#4a4a4a" stroke-width="1"/>
<text x="492.6" y="290.5" font-size="10" text-anchor="end" textLength="14.46" lengthAdjust="spacingAndGlyphs" fill="#1c1c1c" stroke="#1c1c1c" stroke-width="0.2">0.1</text>
<line x1="497.5" y1="262.6" x2="500.5" y2="262.6" stroke="#4a4a4a" stroke-width="1"/>
<text x="492.6" y="266.1" font-size="10" text-anchor="end" textLength="20.24" lengthAdjust="spacingAndGlyphs" fill="#1c1c1c" stroke="#1c1c1c" stroke-width="0.2">0.12</text>
<line x1="500.0" y1="409.1" x2="685" y2="409.1" stroke="#4a4a4a" stroke-width="1"/>
<text x="578.2" y="269.5" font-size="10" textLength="23.7" lengthAdjust="spacingAndGlyphs" fill="#1c1c1c" stroke="#1c1c1c" stroke-width="0.2">PLK1</text>
<text x="466.4" y="334.1" font-size="10.3" text-anchor="middle" textLength="34.6" lengthAdjust="spacingAndGlyphs" transform="rotate(-90 466.4 334.1)" fill="#1c1c1c" stroke="#1c1c1c" stroke-width="0.2">% input</text>
<line x1="514.50" y1="406.60" x2="514.50" y2="406.00" stroke="#6a6a6a" stroke-width="1"/>
<line x1="511.80" y1="406.00" x2="516.80" y2="406.00" stroke="#6a6a6a" stroke-width="1"/>
<rect x="507.80" y="406.90" width="13.00" height="2.20" fill="#dedede" stroke="#5a5a5a" stroke-width="1"/>
<line x1="531.50" y1="405.00" x2="531.50" y2="402.40" stroke="#444" stroke-width="1"/>
<line x1="529.15" y1="402.40" x2="534.15" y2="402.40" stroke="#444" stroke-width="1"/>
<rect x="524.50" y="404.70" width="14.30" height="4.90" fill="#1e1e1e"/>
<line x1="560.50" y1="367.20" x2="560.50" y2="349.40" stroke="#6a6a6a" stroke-width="1"/>
<line x1="558.20" y1="349.40" x2="563.20" y2="349.40" stroke="#6a6a6a" stroke-width="1"/>
<rect x="554.20" y="367.50" width="13.00" height="41.60" fill="#dedede" stroke="#5a5a5a" stroke-width="1"/>
<line x1="577.50" y1="362.30" x2="577.50" y2="336.50" stroke="#444" stroke-width="1"/>
<line x1="575.00" y1="336.50" x2="580.00" y2="336.50" stroke="#444" stroke-width="1"/>
<rect x="570.60" y="362.00" width="13.80" height="47.60" fill="#1e1e1e"/>
<line x1="607.50" y1="397.00" x2="607.50" y2="396.30" stroke="#6a6a6a" stroke-width="1"/>
<line x1="605.25" y1="396.30" x2="610.25" y2="396.30" stroke="#6a6a6a" stroke-width="1"/>
<rect x="601.60" y="397.30" width="12.30" height="11.80" fill="#dedede" stroke="#5a5a5a" stroke-width="1"/>
<line x1="624.50" y1="326.30" x2="624.50" y2="284.50" stroke="#444" stroke-width="1"/>
<line x1="621.95" y1="284.50" x2="626.95" y2="284.50" stroke="#444" stroke-width="1"/>
<rect x="617.60" y="326.00" width="13.70" height="83.60" fill="#1e1e1e"/>
<line x1="656.50" y1="276.00" x2="656.50" y2="261.80" stroke="#6a6a6a" stroke-width="1"/>
<line x1="654.60" y1="261.80" x2="659.60" y2="261.80" stroke="#6a6a6a" stroke-width="1"/>
<rect x="650.40" y="276.30" width="13.40" height="132.80" fill="#dedede" stroke="#5a5a5a" stroke-width="1"/>
<line x1="674.50" y1="375.50" x2="674.50" y2="362.30" stroke="#444" stroke-width="1"/>
<line x1="671.80" y1="362.30" x2="676.80" y2="362.30" stroke="#444" stroke-width="1"/>
<rect x="667.40" y="375.20" width="13.80" height="34.40" fill="#1e1e1e"/>
<text x="517.0" y="423.7" font-size="10" textLength="15.4" lengthAdjust="spacingAndGlyphs" fill="#1c1c1c" stroke="#1c1c1c" stroke-width="0.2">IgG</text>
<text x="559.2" y="423.7" font-size="10" textLength="25.2" lengthAdjust="spacingAndGlyphs" fill="#1c1c1c" stroke="#1c1c1c" stroke-width="0.2">LIN-9</text>
<text x="602.1" y="423.7" font-size="10" textLength="32.2" lengthAdjust="spacingAndGlyphs" fill="#1c1c1c" stroke="#1c1c1c" stroke-width="0.2">B-MYB</text>
<text x="653.3" y="423.7" font-size="10" textLength="23.2" lengthAdjust="spacingAndGlyphs" fill="#1c1c1c" stroke="#1c1c1c" stroke-width="0.2">E2F4</text>
<line x1="46.4" y1="440.2" x2="46.4" y2="585.2" stroke="#4a4a4a" stroke-width="1"/>
<line x1="44.6" y1="584.7" x2="46.4" y2="584.7" stroke="#4a4a4a" stroke-width="1"/>
<text x="41.8" y="588.2" font-size="10" text-anchor="end" textLength="5.78" lengthAdjust="spacingAndGlyphs" fill="#1c1c1c" stroke="#1c1c1c" stroke-width="0.2">0</text>
<line x1="44.6" y1="560.6" x2="46.4" y2="560.6" stroke="#4a4a4a" stroke-width="1"/>
<text x="41.8" y="564.1" font-size="10" text-anchor="end" textLength="20.24" lengthAdjust="spacingAndGlyphs" fill="#1c1c1c" stroke="#1c1c1c" stroke-width="0.2">0.05</text>
<line x1="44.6" y1="536.5" x2="46.4" y2="536.5" stroke="#4a4a4a" stroke-width="1"/>
<text x="41.8" y="540.0" font-size="10" text-anchor="end" textLength="14.46" lengthAdjust="spacingAndGlyphs" fill="#1c1c1c" stroke="#1c1c1c" stroke-width="0.2">0.1</text>
<line x1="44.6" y1="512.5" x2="46.4" y2="512.5" stroke="#4a4a4a" stroke-width="1"/>
<text x="41.8" y="516.0" font-size="10" text-anchor="end" textLength="20.24" lengthAdjust="spacingAndGlyphs" fill="#1c1c1c" stroke="#1c1c1c" stroke-width="0.2">0.15</text>
<line x1="44.6" y1="488.4" x2="46.4" y2="488.4" stroke="#4a4a4a" stroke-width="1"/>
<text x="41.8" y="491.9" font-size="10" text-anchor="end" textLength="14.46" lengthAdjust="spacingAndGlyphs" fill="#1c1c1c" stroke="#1c1c1c" stroke-width="0.2">0.2</text>
<line x1="44.6" y1="464.3" x2="46.4" y2="464.3" stroke="#4a4a4a" stroke-width="1"/>
<text x="41.8" y="467.8" font-size="10" text-anchor="end" textLength="20.24" lengthAdjust="spacingAndGlyphs" fill="#1c1c1c" stroke="#1c1c1c" stroke-width="0.2">0.25</text>
<line x1="44.6" y1="440.2" x2="46.4" y2="440.2" stroke="#4a4a4a" stroke-width="1"/>
<text x="41.8" y="443.7" font-size="10" text-anchor="end" textLength="14.46" lengthAdjust="spacingAndGlyphs" fill="#1c1c1c" stroke="#1c1c1c" stroke-width="0.2">0.3</text>
<line x1="45.9" y1="584.7" x2="230" y2="584.7" stroke="#4a4a4a" stroke-width="1"/>
<text x="124.3" y="443.6" font-size="10" textLength="22.2" lengthAdjust="spacingAndGlyphs" fill="#1c1c1c" stroke="#1c1c1c" stroke-width="0.2">cdc6</text>
<text x="17.1" y="512.7" font-size="10.3" text-anchor="middle" textLength="34.6" lengthAdjust="spacingAndGlyphs" transform="rotate(-90 17.1 512.7)" fill="#1c1c1c" stroke="#1c1c1c" stroke-width="0.2">% input</text>
<line x1="62.50" y1="583.60" x2="62.50" y2="582.40" stroke="#6a6a6a" stroke-width="1"/>
<line x1="59.95" y1="582.40" x2="64.95" y2="582.40" stroke="#6a6a6a" stroke-width="1"/>
<rect x="56.20" y="583.90" width="12.50" height="0.80" fill="#dedede" stroke="#5a5a5a" stroke-width="1"/>
<line x1="80.50" y1="581.70" x2="80.50" y2="580.60" stroke="#444" stroke-width="1"/>
<line x1="77.90" y1="580.60" x2="82.90" y2="580.60" stroke="#444" stroke-width="1"/>
<rect x="73.20" y="581.40" width="14.40" height="3.80" fill="#1e1e1e"/>
<line x1="106.50" y1="537.90" x2="106.50" y2="529.90" stroke="#6a6a6a" stroke-width="1"/>
<line x1="104.40" y1="529.90" x2="109.40" y2="529.90" stroke="#6a6a6a" stroke-width="1"/>
<rect x="100.40" y="538.20" width="13.00" height="46.50" fill="#dedede" stroke="#5a5a5a" stroke-width="1"/>
<line x1="123.50" y1="574.70" x2="123.50" y2="572.00" stroke="#444" stroke-width="1"/>
<line x1="121.35" y1="572.00" x2="126.35" y2="572.00" stroke="#444" stroke-width="1"/>
<rect x="117.00" y="574.40" width="13.70" height="10.80" fill="#1e1e1e"/>
<line x1="152.50" y1="582.20" x2="152.50" y2="581.20" stroke="#6a6a6a" stroke-width="1"/>
<line x1="150.00" y1="581.20" x2="155.00" y2="581.20" stroke="#6a6a6a" stroke-width="1"/>
<rect x="145.70" y="582.50" width="13.60" height="2.20" fill="#dedede" stroke="#5a5a5a" stroke-width="1"/>
<line x1="170.50" y1="577.10" x2="170.50" y2="575.40" stroke="#444" stroke-width="1"/>
<line x1="168.40" y1="575.40" x2="173.40" y2="575.40" stroke="#444" stroke-width="1"/>
<rect x="164.00" y="576.80" width="13.80" height="8.40" fill="#1e1e1e"/>
<line x1="202.50" y1="461.40" x2="202.50" y2="435.80" stroke="#6a6a6a" stroke-width="1"/>
<line x1="200.45" y1="435.80" x2="205.45" y2="435.80" stroke="#6a6a6a" stroke-width="1"/>
<rect x="196.30" y="461.70" width="13.30" height="123.00" fill="#dedede" stroke="#5a5a5a" stroke-width="1"/>
<line x1="220.50" y1="573.30" x2="220.50" y2="569.50" stroke="#444" stroke-width="1"/>
<line x1="218.20" y1="569.50" x2="223.20" y2="569.50" stroke="#444" stroke-width="1"/>
<rect x="213.90" y="573.00" width="13.60" height="12.20" fill="#1e1e1e"/>
<text x="63.4" y="598.8" font-size="10" textLength="15.8" lengthAdjust="spacingAndGlyphs" fill="#1c1c1c" stroke="#1c1c1c" stroke-width="0.2">IgG</text>
<text x="105.7" y="598.8" font-size="10" textLength="25.0" lengthAdjust="spacingAndGlyphs" fill="#1c1c1c" stroke="#1c1c1c" stroke-width="0.2">LIN-9</text>
<text x="149.3" y="598.8" font-size="10" textLength="32.3" lengthAdjust="spacingAndGlyphs" fill="#1c1c1c" stroke="#1c1c1c" stroke-width="0.2">B-MYB</text>
<text x="200.7" y="598.8" font-size="10" textLength="23.7" lengthAdjust="spacingAndGlyphs" fill="#1c1c1c" stroke="#1c1c1c" stroke-width="0.2">E2F4</text>
<line x1="269.4" y1="439.9" x2="269.4" y2="584.8" stroke="#4a4a4a" stroke-width="1"/>
<line x1="267.4" y1="584.3" x2="269.4" y2="584.3" stroke="#4a4a4a" stroke-width="1"/>
<text x="264.4" y="587.8" font-size="10" text-anchor="end" textLength="5.78" lengthAdjust="spacingAndGlyphs" fill="#1c1c1c" stroke="#1c1c1c" stroke-width="0.2">0</text>
<line x1="267.4" y1="569.9" x2="269.4" y2="569.9" stroke="#4a4a4a" stroke-width="1"/>
<line x1="267.4" y1="555.4" x2="269.4" y2="555.4" stroke="#4a4a4a" stroke-width="1"/>
<text x="264.4" y="558.9" font-size="10" text-anchor="end" textLength="20.24" lengthAdjust="spacingAndGlyphs" fill="#1c1c1c" stroke="#1c1c1c" stroke-width="0.2">0.04</text>
<line x1="267.4" y1="541.0" x2="269.4" y2="541.0" stroke="#4a4a4a" stroke-width="1"/>
<line x1="267.4" y1="526.5" x2="269.4" y2="526.5" stroke="#4a4a4a" stroke-width="1"/>
<text x="264.4" y="530.0" font-size="10" text-anchor="end" textLength="20.24" lengthAdjust="spacingAndGlyphs" fill="#1c1c1c" stroke="#1c1c1c" stroke-width="0.2">0.08</text>
<line x1="267.4" y1="512.1" x2="269.4" y2="512.1" stroke="#4a4a4a" stroke-width="1"/>
<line x1="267.4" y1="497.7" x2="269.4" y2="497.7" stroke="#4a4a4a" stroke-width="1"/>
<text x="264.4" y="501.2" font-size="10" text-anchor="end" textLength="20.24" lengthAdjust="spacingAndGlyphs" fill="#1c1c1c" stroke="#1c1c1c" stroke-width="0.2">0.12</text>
<line x1="267.4" y1="483.2" x2="269.4" y2="483.2" stroke="#4a4a4a" stroke-width="1"/>
<line x1="267.4" y1="468.8" x2="269.4" y2="468.8" stroke="#4a4a4a" stroke-width="1"/>
<text x="264.4" y="472.3" font-size="10" text-anchor="end" textLength="20.24" lengthAdjust="spacingAndGlyphs" fill="#1c1c1c" stroke="#1c1c1c" stroke-width="0.2">0.16</text>
<line x1="267.4" y1="454.3" x2="269.4" y2="454.3" stroke="#4a4a4a" stroke-width="1"/>
<line x1="267.4" y1="439.9" x2="269.4" y2="439.9" stroke="#4a4a4a" stroke-width="1"/>
<text x="264.4" y="443.4" font-size="10" text-anchor="end" textLength="14.46" lengthAdjust="spacingAndGlyphs" fill="#1c1c1c" stroke="#1c1c1c" stroke-width="0.2">0.2</text>
<line x1="268.9" y1="584.3" x2="443.9" y2="584.3" stroke="#4a4a4a" stroke-width="1"/>
<text x="352.8" y="443.4" font-size="10" textLength="18.6" lengthAdjust="spacingAndGlyphs" fill="#1c1c1c" stroke="#1c1c1c" stroke-width="0.2">RR1</text>
<text x="238.6" y="509.3" font-size="10.3" text-anchor="middle" textLength="34.6" lengthAdjust="spacingAndGlyphs" transform="rotate(-90 238.6 509.3)" fill="#1c1c1c" stroke="#1c1c1c" stroke-width="0.2">% input</text>
<line x1="283.50" y1="582.60" x2="283.50" y2="582.00" stroke="#6a6a6a" stroke-width="1"/>
<line x1="281.50" y1="582.00" x2="286.50" y2="582.00" stroke="#6a6a6a" stroke-width="1"/>
<rect x="277.50" y="582.90" width="13.00" height="1.40" fill="#dedede" stroke="#5a5a5a" stroke-width="1"/>
<line x1="301.50" y1="581.60" x2="301.50" y2="580.70" stroke="#444" stroke-width="1"/>
<line x1="298.95" y1="580.70" x2="303.95" y2="580.70" stroke="#444" stroke-width="1"/>
<rect x="294.20" y="581.30" width="14.50" height="3.50" fill="#1e1e1e"/>
<line x1="329.50" y1="554.60" x2="329.50" y2="548.30" stroke="#6a6a6a" stroke-width="1"/>
<line x1="327.00" y1="548.30" x2="332.00" y2="548.30" stroke="#6a6a6a" stroke-width="1"/>
<rect x="323.10" y="554.90" width="12.80" height="29.40" fill="#dedede" stroke="#5a5a5a" stroke-width="1"/>
<line x1="345.50" y1="576.10" x2="345.50" y2="573.60" stroke="#444" stroke-width="1"/>
<line x1="343.30" y1="573.60" x2="348.30" y2="573.60" stroke="#444" stroke-width="1"/>
<rect x="338.40" y="575.80" width="14.80" height="9.00" fill="#1e1e1e"/>
<line x1="374.50" y1="577.50" x2="374.50" y2="575.80" stroke="#6a6a6a" stroke-width="1"/>
<line x1="372.60" y1="575.80" x2="377.60" y2="575.80" stroke="#6a6a6a" stroke-width="1"/>
<rect x="368.50" y="577.80" width="13.20" height="6.50" fill="#dedede" stroke="#5a5a5a" stroke-width="1"/>
<line x1="390.50" y1="571.40" x2="390.50" y2="566.70" stroke="#444" stroke-width="1"/>
<line x1="388.45" y1="566.70" x2="393.45" y2="566.70" stroke="#444" stroke-width="1"/>
<rect x="384.10" y="571.10" width="13.70" height="13.70" fill="#1e1e1e"/>
<line x1="419.50" y1="457.30" x2="419.50" y2="438.90" stroke="#6a6a6a" stroke-width="1"/>
<line x1="417.45" y1="438.90" x2="422.45" y2="438.90" stroke="#6a6a6a" stroke-width="1"/>
<rect x="413.40" y="457.60" width="13.10" height="126.70" fill="#dedede" stroke="#5a5a5a" stroke-width="1"/>
<line x1="436.50" y1="563.50" x2="436.50" y2="554.70" stroke="#444" stroke-width="1"/>
<line x1="433.80" y1="554.70" x2="438.80" y2="554.70" stroke="#444" stroke-width="1"/>
<rect x="429.30" y="563.20" width="14.00" height="21.60" fill="#1e1e1e"/>
<text x="285.1" y="598.8" font-size="10" textLength="15.6" lengthAdjust="spacingAndGlyphs" fill="#1c1c1c" stroke="#1c1c1c" stroke-width="0.2">IgG</text>
<text x="324.9" y="598.8" font-size="10" textLength="25.0" lengthAdjust="spacingAndGlyphs" fill="#1c1c1c" stroke="#1c1c1c" stroke-width="0.2">LIN-9</text>
<text x="366.1" y="598.8" font-size="10" textLength="32.6" lengthAdjust="spacingAndGlyphs" fill="#1c1c1c" stroke="#1c1c1c" stroke-width="0.2">B-MYB</text>
<text x="417.3" y="598.8" font-size="10" textLength="23.7" lengthAdjust="spacingAndGlyphs" fill="#1c1c1c" stroke="#1c1c1c" stroke-width="0.2">E2F4</text>
<line x1="499.8" y1="439.0" x2="499.8" y2="585.6" stroke="#4a4a4a" stroke-width="1"/>
<line x1="497.2" y1="585.1" x2="499.8" y2="585.1" stroke="#4a4a4a" stroke-width="1"/>
<text x="492.6" y="588.6" font-size="10" text-anchor="end" textLength="5.78" lengthAdjust="spacingAndGlyphs" fill="#1c1c1c" stroke="#1c1c1c" stroke-width="0.2">0</text>
<line x1="497.2" y1="555.9" x2="499.8" y2="555.9" stroke="#4a4a4a" stroke-width="1"/>
<text x="492.6" y="559.4" font-size="10" text-anchor="end" textLength="20.24" lengthAdjust="spacingAndGlyphs" fill="#1c1c1c" stroke="#1c1c1c" stroke-width="0.2">0.02</text>
<line x1="497.2" y1="526.7" x2="499.8" y2="526.7" stroke="#4a4a4a" stroke-width="1"/>
<text x="492.6" y="530.2" font-size="10" text-anchor="end" textLength="20.24" lengthAdjust="spacingAndGlyphs" fill="#1c1c1c" stroke="#1c1c1c" stroke-width="0.2">0.04</text>
<line x1="497.2" y1="497.4" x2="499.8" y2="497.4" stroke="#4a4a4a" stroke-width="1"/>
<text x="492.6" y="500.9" font-size="10" text-anchor="end" textLength="20.24" lengthAdjust="spacingAndGlyphs" fill="#1c1c1c" stroke="#1c1c1c" stroke-width="0.2">0.06</text>
<line x1="497.2" y1="468.2" x2="499.8" y2="468.2" stroke="#4a4a4a" stroke-width="1"/>
<text x="492.6" y="471.7" font-size="10" text-anchor="end" textLength="20.24" lengthAdjust="spacingAndGlyphs" fill="#1c1c1c" stroke="#1c1c1c" stroke-width="0.2">0.08</text>
<line x1="497.2" y1="439.0" x2="499.8" y2="439.0" stroke="#4a4a4a" stroke-width="1"/>
<text x="492.6" y="442.5" font-size="10" text-anchor="end" textLength="14.46" lengthAdjust="spacingAndGlyphs" fill="#1c1c1c" stroke="#1c1c1c" stroke-width="0.2">0.1</text>
<line x1="499.3" y1="585.1" x2="681.8" y2="585.1" stroke="#4a4a4a" stroke-width="1"/>
<text x="569.2" y="443.4" font-size="10" textLength="42.7" lengthAdjust="spacingAndGlyphs" fill="#1c1c1c" stroke="#1c1c1c" stroke-width="0.2">GAPDH2</text>
<text x="466.4" y="511.1" font-size="10.3" text-anchor="middle" textLength="34.6" lengthAdjust="spacingAndGlyphs" transform="rotate(-90 466.4 511.1)" fill="#1c1c1c" stroke="#1c1c1c" stroke-width="0.2">% input</text>
<line x1="513.50" y1="580.70" x2="513.50" y2="578.60" stroke="#6a6a6a" stroke-width="1"/>
<line x1="511.35" y1="578.60" x2="516.35" y2="578.60" stroke="#6a6a6a" stroke-width="1"/>
<rect x="506.90" y="581.00" width="13.90" height="4.10" fill="#dedede" stroke="#5a5a5a" stroke-width="1"/>
<line x1="530.50" y1="578.60" x2="530.50" y2="576.80" stroke="#444" stroke-width="1"/>
<line x1="528.50" y1="576.80" x2="533.50" y2="576.80" stroke="#444" stroke-width="1"/>
<rect x="523.90" y="578.30" width="14.20" height="7.30" fill="#1e1e1e"/>
<line x1="561.50" y1="575.30" x2="561.50" y2="571.90" stroke="#6a6a6a" stroke-width="1"/>
<line x1="559.15" y1="571.90" x2="564.15" y2="571.90" stroke="#6a6a6a" stroke-width="1"/>
<rect x="555.10" y="575.60" width="13.10" height="9.50" fill="#dedede" stroke="#5a5a5a" stroke-width="1"/>
<line x1="577.50" y1="570.50" x2="577.50" y2="569.00" stroke="#444" stroke-width="1"/>
<line x1="575.25" y1="569.00" x2="580.25" y2="569.00" stroke="#444" stroke-width="1"/>
<rect x="571.10" y="570.20" width="13.30" height="15.40" fill="#1e1e1e"/>
<line x1="607.50" y1="577.50" x2="607.50" y2="574.30" stroke="#6a6a6a" stroke-width="1"/>
<line x1="605.65" y1="574.30" x2="610.65" y2="574.30" stroke="#6a6a6a" stroke-width="1"/>
<rect x="601.60" y="577.80" width="13.10" height="7.30" fill="#dedede" stroke="#5a5a5a" stroke-width="1"/>
<line x1="624.50" y1="573.90" x2="624.50" y2="571.80" stroke="#444" stroke-width="1"/>
<line x1="621.80" y1="571.80" x2="626.80" y2="571.80" stroke="#444" stroke-width="1"/>
<rect x="617.30" y="573.60" width="14.00" height="12.00" fill="#1e1e1e"/>
<line x1="654.50" y1="573.70" x2="654.50" y2="572.90" stroke="#6a6a6a" stroke-width="1"/>
<line x1="652.60" y1="572.90" x2="657.60" y2="572.90" stroke="#6a6a6a" stroke-width="1"/>
<rect x="648.50" y="574.00" width="13.20" height="11.10" fill="#dedede" stroke="#5a5a5a" stroke-width="1"/>
<line x1="672.50" y1="571.40" x2="672.50" y2="570.50" stroke="#444" stroke-width="1"/>
<line x1="669.75" y1="570.50" x2="674.75" y2="570.50" stroke="#444" stroke-width="1"/>
<rect x="665.60" y="571.10" width="13.30" height="14.50" fill="#1e1e1e"/>
<text x="515.1" y="598.7" font-size="10" textLength="15.7" lengthAdjust="spacingAndGlyphs" fill="#1c1c1c" stroke="#1c1c1c" stroke-width="0.2">IgG</text>
<text x="557.9" y="598.7" font-size="10" textLength="24.3" lengthAdjust="spacingAndGlyphs" fill="#1c1c1c" stroke="#1c1c1c" stroke-width="0.2">LIN-9</text>
<text x="600.6" y="598.7" font-size="10" textLength="32.3" lengthAdjust="spacingAndGlyphs" fill="#1c1c1c" stroke="#1c1c1c" stroke-width="0.2">B-MYB</text>
<text x="651.9" y="598.7" font-size="10" textLength="23.7" lengthAdjust="spacingAndGlyphs" fill="#1c1c1c" stroke="#1c1c1c" stroke-width="0.2">E2F4</text>
</g>
<g id="panelD">
<text x="234.4" y="626.1" font-size="14" font-weight="bold" fill="#111" stroke="#111" stroke-width="0.45">D</text>
<line x1="276.9" y1="617.7" x2="276.9" y2="755.8" stroke="#4a4a4a" stroke-width="1"/>
<line x1="275.29999999999995" y1="755.3" x2="276.9" y2="755.3" stroke="#4a4a4a" stroke-width="1"/>
<text x="272.4" y="759.4" font-size="10" text-anchor="end" textLength="5.78" lengthAdjust="spacingAndGlyphs" fill="#1c1c1c" stroke="#1c1c1c" stroke-width="0.2">0</text>
<line x1="275.29999999999995" y1="735.6" x2="276.9" y2="735.6" stroke="#4a4a4a" stroke-width="1"/>
<text x="272.4" y="739.7" font-size="10" text-anchor="end" textLength="5.78" lengthAdjust="spacingAndGlyphs" fill="#1c1c1c" stroke="#1c1c1c" stroke-width="0.2">5</text>
<line x1="275.29999999999995" y1="716.0" x2="276.9" y2="716.0" stroke="#4a4a4a" stroke-width="1"/>
<text x="272.4" y="720.1" font-size="10" text-anchor="end" textLength="11.57" lengthAdjust="spacingAndGlyphs" fill="#1c1c1c" stroke="#1c1c1c" stroke-width="0.2">10</text>
<line x1="275.29999999999995" y1="696.3" x2="276.9" y2="696.3" stroke="#4a4a4a" stroke-width="1"/>
<text x="272.4" y="700.4" font-size="10" text-anchor="end" textLength="11.57" lengthAdjust="spacingAndGlyphs" fill="#1c1c1c" stroke="#1c1c1c" stroke-width="0.2">15</text>
<line x1="275.29999999999995" y1="676.7" x2="276.9" y2="676.7" stroke="#4a4a4a" stroke-width="1"/>
<text x="272.4" y="680.8" font-size="10" text-anchor="end" textLength="11.57" lengthAdjust="spacingAndGlyphs" fill="#1c1c1c" stroke="#1c1c1c" stroke-width="0.2">20</text>
<line x1="275.29999999999995" y1="657.0" x2="276.9" y2="657.0" stroke="#4a4a4a" stroke-width="1"/>
<text x="272.4" y="661.1" font-size="10" text-anchor="end" textLength="11.57" lengthAdjust="spacingAndGlyphs" fill="#1c1c1c" stroke="#1c1c1c" stroke-width="0.2">25</text>
<line x1="275.29999999999995" y1="637.4" x2="276.9" y2="637.4" stroke="#4a4a4a" stroke-width="1"/>
<text x="272.4" y="641.5" font-size="10" text-anchor="end" textLength="11.57" lengthAdjust="spacingAndGlyphs" fill="#1c1c1c" stroke="#1c1c1c" stroke-width="0.2">30</text>
<line x1="275.29999999999995" y1="617.7" x2="276.9" y2="617.7" stroke="#4a4a4a" stroke-width="1"/>
<text x="272.4" y="621.8" font-size="10" text-anchor="end" textLength="11.57" lengthAdjust="spacingAndGlyphs" fill="#1c1c1c" stroke="#1c1c1c" stroke-width="0.2">35</text>
<line x1="276.4" y1="755.3" x2="461.6" y2="755.3" stroke="#4a4a4a" stroke-width="1"/>
<text x="242.5" y="685.8" font-size="11.2" text-anchor="middle" textLength="74.8" lengthAdjust="spacingAndGlyphs" transform="rotate(-90 242.5 685.8)" fill="#1c1c1c" stroke="#1c1c1c" stroke-width="0.2">Fold enrichment</text>
<text x="254.9" y="686.9" font-size="11.2" text-anchor="middle" textLength="70.7" lengthAdjust="spacingAndGlyphs" transform="rotate(-90 254.9 686.9)" fill="#1c1c1c" stroke="#1c1c1c" stroke-width="0.2">(relative to IgG)</text>
<line x1="296.50" y1="749.20" x2="296.50" y2="746.50" stroke="#6a6a6a" stroke-width="1"/>
<line x1="292.70" y1="746.50" x2="301.70" y2="746.50" stroke="#6a6a6a" stroke-width="1"/>
<rect x="289.20" y="749.50" width="16.00" height="5.80" fill="#dedede" stroke="#5a5a5a" stroke-width="1"/>
<line x1="316.50" y1="751.90" x2="316.50" y2="750.60" stroke="#444" stroke-width="1"/>
<line x1="312.20" y1="750.60" x2="321.20" y2="750.60" stroke="#444" stroke-width="1"/>
<rect x="308.00" y="751.60" width="17.40" height="4.20" fill="#454545"/>
<rect x="308.40" y="752.00" width="16.60" height="3.40" fill="none" stroke="#383838" stroke-width="0.8"/>
<line x1="357.50" y1="640.70" x2="357.50" y2="638.30" stroke="#6a6a6a" stroke-width="1"/>
<line x1="353.15" y1="638.30" x2="362.15" y2="638.30" stroke="#6a6a6a" stroke-width="1"/>
<rect x="349.10" y="641.00" width="17.10" height="114.30" fill="#dedede" stroke="#5a5a5a" stroke-width="1"/>
<line x1="377.50" y1="704.30" x2="377.50" y2="702.30" stroke="#444" stroke-width="1"/>
<line x1="373.30" y1="702.30" x2="382.30" y2="702.30" stroke="#444" stroke-width="1"/>
<rect x="369.00" y="704.00" width="17.60" height="51.80" fill="#454545"/>
<rect x="369.40" y="704.40" width="16.80" height="51.00" fill="none" stroke="#383838" stroke-width="0.8"/>
<line x1="421.50" y1="697.00" x2="421.50" y2="696.10" stroke="#6a6a6a" stroke-width="1"/>
<line x1="417.00" y1="696.10" x2="426.00" y2="696.10" stroke="#6a6a6a" stroke-width="1"/>
<rect x="413.10" y="697.30" width="16.80" height="58.00" fill="#dedede" stroke="#5a5a5a" stroke-width="1"/>
<line x1="441.50" y1="739.30" x2="441.50" y2="737.00" stroke="#444" stroke-width="1"/>
<line x1="437.55" y1="737.00" x2="446.55" y2="737.00" stroke="#444" stroke-width="1"/>
<rect x="433.30" y="739.00" width="17.50" height="16.80" fill="#454545"/>
<rect x="433.70" y="739.40" width="16.70" height="16.00" fill="none" stroke="#383838" stroke-width="0.8"/>
<text x="286.0" y="767.3" font-size="10" textLength="41.7" lengthAdjust="spacingAndGlyphs" fill="#1c1c1c" stroke="#1c1c1c" stroke-width="0.2">GAPDH2</text>
<text x="357.4" y="767.5" font-size="10" textLength="23.9" lengthAdjust="spacingAndGlyphs" fill="#1c1c1c" stroke="#1c1c1c" stroke-width="0.2">Birc5</text>
<text x="413.4" y="767.5" font-size="10" textLength="35.9" lengthAdjust="spacingAndGlyphs" fill="#1c1c1c" stroke="#1c1c1c" stroke-width="0.2">Ubch10</text>
<rect x="404.10" y="626.20" width="8.40" height="8.40" fill="#dedede" stroke="#555" stroke-width="1"/>
<rect x="403.60" y="643.50" width="9.40" height="9.20" fill="#454545" stroke="#333" stroke-width="0.6"/>
<text x="415.8" y="633.4" font-size="10" textLength="131.6" lengthAdjust="spacingAndGlyphs" fill="#1c1c1c" stroke="#1c1c1c" stroke-width="0.2">1st IP: LIN-9. 2nd IP: B-MYB</text>
<text x="415.8" y="651.8" font-size="10" textLength="131.0" lengthAdjust="spacingAndGlyphs" fill="#1c1c1c" stroke="#1c1c1c" stroke-width="0.2">1st IP: B-MYB. 2nd IP: LIN-9</text>
</g>
</svg></body></html>
